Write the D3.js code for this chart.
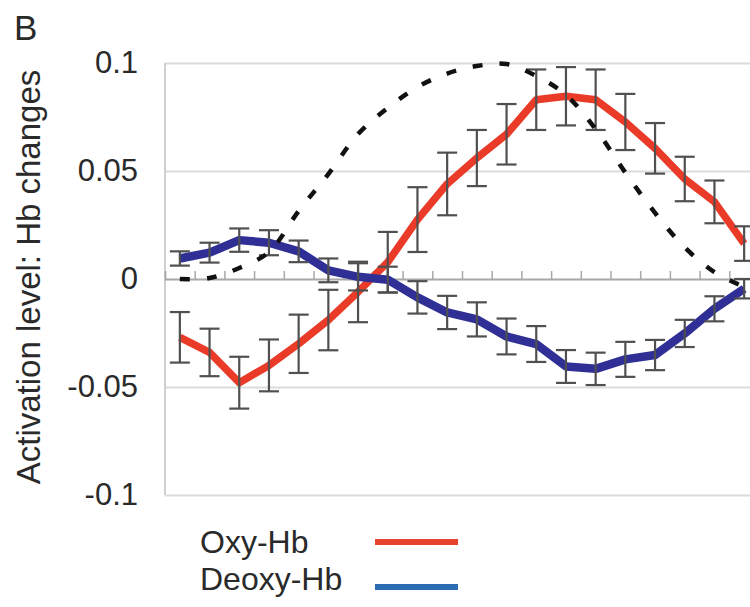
<!DOCTYPE html>
<html>
<head>
<meta charset="utf-8">
<script src="https://cdn.jsdelivr.net/npm/d3@7/dist/d3.min.js"></script>
<style>
  html, body { margin: 0; padding: 0; background: #fff; }
  svg { display: block; }
  text { font-family: "Liberation Sans", Arial, Helvetica, sans-serif; fill: #2a2a2a; }
</style>
</head>
<body>
<svg id="chart" width="750" height="607"></svg>
<script>
// ---- data ----
const timePoints = d3.range(1, 21);
const oxyMean = [-0.027, -0.034, -0.048, -0.040, -0.030, -0.019, -0.006, 0.0078, 0.0275, 0.044,
                 0.056, 0.067, 0.083, 0.0846, 0.083, 0.0727, 0.0605, 0.0463, 0.0357, 0.0164];
const oxyErr  = [0.0117, 0.011, 0.012, 0.012, 0.0135, 0.014, 0.014, 0.014, 0.015, 0.0145,
                 0.013, 0.014, 0.014, 0.0135, 0.014, 0.013, 0.0117, 0.0103, 0.0099, 0.008];
const deoxyMean = [0.0095, 0.0122, 0.018, 0.0168, 0.0128, 0.004, 0.001, -0.0003, -0.0085, -0.0155,
                   -0.0187, -0.0266, -0.0301, -0.0405, -0.0416, -0.0372, -0.0352, -0.0252, -0.0138, -0.0045];
const deoxyErr  = [0.0033, 0.0046, 0.0054, 0.0058, 0.005, 0.0055, 0.0063, 0.006, 0.0075, 0.0077,
                   0.0079, 0.0083, 0.0083, 0.0076, 0.0075, 0.0081, 0.007, 0.0063, 0.0058, 0.0045];
const modelCurve = [0, 0.0005, 0.0051, 0.0125, 0.0315, 0.0486, 0.0671, 0.0792, 0.0889, 0.0951,
                    0.0986, 0.0995, 0.094, 0.0852, 0.0694, 0.0493, 0.0306, 0.0146, 0.0032, -0.0037];
const yTickValues = [0.1, 0.05, 0, -0.05, -0.1];
const yTickLabels = ["0.1", "0.05", "0", "-0.05", "-0.1"];
const seriesNames = ["Oxy-Hb", "Deoxy-Hb"];
const legendColors = ["#e8432c", "#2a6db3"];

// ---- layout ----
const svg = d3.select("#chart");
const L = 165, R = 759, T = 63, B = 495;
const x = d3.scaleBand().domain(timePoints).range([L, R]).padding(0);
const xEdge = d3.scaleLinear().domain([0, timePoints.length]).range([L, R]);
const y = d3.scaleLinear().domain([-0.1, 0.1]).range([B, T]);
const cx = d => x(d) + x.bandwidth() / 2;

// gridlines
const grid = svg.append("g").attr("transform", `translate(${L},0)`)
  .call(d3.axisLeft(y).tickValues(yTickValues.filter(v => v !== 0)).tickSize(-(R - L)).tickFormat(""));
grid.select(".domain").remove();
grid.selectAll(".tick line").attr("stroke", "#dcdcdc").attr("stroke-width", 2);

// left axis line
svg.append("line").attr("x1", L).attr("x2", L).attr("y1", y(0.1)).attr("y2", y(-0.1))
  .attr("stroke", "#cfcfcf").attr("stroke-width", 2);

// y tick labels
const yAx = svg.append("g").attr("transform", `translate(${L},0)`)
  .call(d3.axisLeft(y).tickValues(yTickValues).tickSize(0).tickPadding(27)
    .tickFormat((d, i) => yTickLabels[i]));
yAx.select(".domain").remove();
yAx.selectAll("text").attr("font-size", 31).attr("fill", "#2a2a2a")
  .attr("font-family", "'Liberation Sans', Arial, sans-serif");

// zero axis with ticks at category boundaries
const zAx = svg.append("g").attr("transform", `translate(0,${y(0)})`)
  .call(d3.axisTop(xEdge).tickValues(d3.range(1, timePoints.length)).tickSize(8).tickFormat(""));
zAx.select(".domain").attr("stroke", "#a8a8a8").attr("stroke-width", 1.8);
zAx.selectAll(".tick line").attr("stroke", "#a8a8a8").attr("stroke-width", 1.5);

// series drawing
function drawSeries(mean, err, color, width) {
  const line = d3.line().x((d, i) => cx(timePoints[i])).y(d => y(d));
  svg.append("path").datum(mean).attr("d", line)
    .attr("fill", "none").attr("stroke", color).attr("stroke-width", width)
    .attr("stroke-linejoin", "round").attr("stroke-linecap", "butt");
  const g = svg.append("g").attr("stroke", "#505050").attr("stroke-width", 2.2);
  const cap = 10;
  mean.forEach((m, i) => {
    const xc = cx(timePoints[i]);
    const y1 = y(m + err[i]), y2 = y(m - err[i]);
    g.append("line").attr("x1", xc).attr("x2", xc).attr("y1", y1).attr("y2", y2);
    g.append("line").attr("x1", xc - cap).attr("x2", xc + cap).attr("y1", y1).attr("y2", y1);
    g.append("line").attr("x1", xc - cap).attr("x2", xc + cap).attr("y1", y2).attr("y2", y2);
  });
}
drawSeries(oxyMean, oxyErr, "#ea3b28", 7.5);
drawSeries(deoxyMean, deoxyErr, "#2f2f96", 8.5);

// dashed model curve
svg.append("path").datum(modelCurve)
  .attr("d", d3.line().x((d, i) => cx(timePoints[i])).y(d => y(d)).curve(d3.curveCatmullRom))
  .attr("fill", "none").attr("stroke", "#111").attr("stroke-width", 4.5)
  .attr("stroke-dasharray", "10,17");

// panel letter
svg.append("text").attr("x", 14).attr("y", 40).attr("font-size", 35).text("B");

// y-axis title
svg.append("text").attr("transform", "translate(40,277) rotate(-90)")
  .attr("text-anchor", "middle").attr("font-size", 33)
  .text("Activation level: Hb changes");

// legend
const leg = svg.append("g");
const legY = [553, 590];
const legLineY = [542, 587];
seriesNames.forEach((n, i) => {
  leg.append("text").attr("x", 200).attr("y", legY[i]).attr("font-size", 32).text(n);
  leg.append("line").attr("x1", 375).attr("x2", 458).attr("y1", legLineY[i]).attr("y2", legLineY[i])
    .attr("stroke", legendColors[i]).attr("stroke-width", 6);
});
</script>
</body>
</html>
